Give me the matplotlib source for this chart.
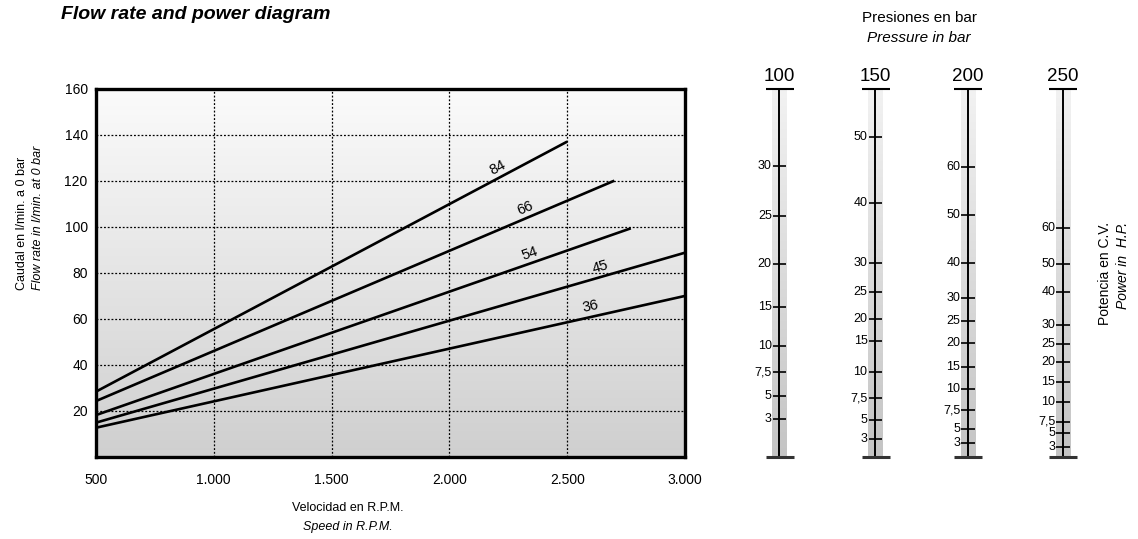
import numpy as np
import matplotlib
matplotlib.use("Agg")
import matplotlib.pyplot as plt
from matplotlib.colors import LinearSegmentedColormap

plt.rcParams['font.family'] = ['Liberation Sans', 'DejaVu Sans']

# ---------------- data ----------------
# Flow lines (label = displacement), flow in l/min vs speed in rpm
line_labels = ["84", "66", "54", "45", "36"]
rpm_start = [500, 500, 500, 500, 500]
rpm_end = [2500, 2700, 2770, 3000, 3000]
flow_start = [28.3, 24.2, 18.1, 14.8, 12.6]
flow_end = [137.0, 120.0, 99.3, 88.7, 69.9]
label_rpm = [2206, 2321, 2342, 2639, 2601]

x_ticks = [500, 1000, 1500, 2000, 2500, 3000]
x_tick_labels = ["500", "1.000", "1.500", "2.000", "2.500", "3.000"]
y_ticks = [20, 40, 60, 80, 100, 120, 140, 160]

# Power nomogram: pressure scales, power ticks (CV) and their flow-equivalent
pressures = ["100", "150", "200", "250"]
power_labels = [
    ["30", "25", "20", "15", "10", "7,5", "5", "3"],
    ["50", "40", "30", "25", "20", "15", "10", "7,5", "5", "3"],
    ["60", "50", "40", "30", "25", "20", "15", "10", "7,5", "5", "3"],
    ["60", "50", "40", "30", "25", "20", "15", "10", "7,5", "5", "3"],
]
power_flow = [
    [126.4, 104.7, 83.8, 65.3, 48.3, 36.8, 26.4, 16.4],
    [139.1, 110.1, 84.0, 71.7, 59.8, 50.3, 36.8, 25.4, 15.9, 7.5],
    [126.1, 105.1, 84.3, 69.1, 59.0, 49.3, 39.1, 29.3, 20.3, 12.0, 6.1],
    [99.6, 83.8, 71.7, 57.3, 48.9, 41.3, 32.6, 23.7, 15.2, 10.2, 4.3],
]

# ---------------- layout ----------------
W, H = 1138, 539
fig = plt.figure(figsize=(W / 100, H / 100), dpi=100)

def fx(px):
    return px / W

def fy(py):
    return 1 - py / H

ax_l, ax_r, ax_t, ax_b = 96, 685, 88.7, 456.7
ax = fig.add_axes([fx(ax_l), fy(ax_b), fx(ax_r - ax_l), (ax_b - ax_t) / H])
ax.set_xlim(500, 3000)
ax.set_ylim(0, 160)

# gradient background (light at top, grey at bottom)
cmap_bg = LinearSegmentedColormap.from_list("bg", ["#fbfbfb", "#cfcfcf"])
grad = np.linspace(0, 1, 256).reshape(-1, 1)
ax.imshow(grad, cmap=cmap_bg, extent=[500, 3000, 0, 160], aspect='auto',
          zorder=0, interpolation='bicubic', origin='upper')
ax.set_xlim(500, 3000)
ax.set_ylim(0, 160)

ax.set_xticks(x_ticks)
ax.set_xticklabels(x_tick_labels)
ax.set_yticks(y_ticks)
ax.tick_params(axis='both', length=0, labelsize=10)
ax.tick_params(axis='x', pad=12)
ax.tick_params(axis='y', pad=6)
ax.grid(True, color='black', linestyle=(0, (1.5, 1.5)), linewidth=0.9, zorder=1)
for s in ax.spines.values():
    s.set_linewidth(2.4)
    s.set_color('black')
    s.set_zorder(5)

for lab, r0, r1, q0, q1, lr in zip(line_labels, rpm_start, rpm_end,
                                     flow_start, flow_end, label_rpm):
    ax.plot([r0, r1], [q0, q1], color='black', lw=1.9, zorder=3,
            solid_capstyle='butt')
    slope = (q1 - q0) / (r1 - r0)
    ly = q0 + slope * (lr - r0) + 4.5
    ang = np.degrees(np.arctan2(q1 - q0, r1 - r0))
    ax.text(lr, ly, lab, fontsize=10.5, ha='center', va='center', rotation=ang,
            rotation_mode='anchor', transform_rotates_text=True, zorder=4)

# axis titles
fig.text(fx(61), fy(19), "Flow rate and power diagram", fontsize=14,
         fontweight='bold', style='italic', va='baseline', ha='left')
fig.text(fx(348), fy(508), "Velocidad en R.P.M.", fontsize=9, ha='center', va='center')
fig.text(fx(348), fy(527), "Speed in R.P.M.", fontsize=9, style='italic',
         ha='center', va='center')
fig.text(fx(21.7), fy(290), "Caudal en l/min. a 0 bar", fontsize=9, rotation=90,
         ha='center', va='bottom')
fig.text(fx(38), fy(290), "Flow rate in l/min. at 0 bar", fontsize=9, rotation=90,
         style='italic', ha='center', va='bottom')

# ---------------- nomogram ----------------
n_l, n_r = 730, 1100
ax2 = fig.add_axes([fx(n_l), fy(ax_b), fx(n_r - n_l), (ax_b - ax_t) / H])
ax2.set_xlim(n_l, n_r)
ax2.set_ylim(0, 160)
ax2.axis('off')

centers = [779.3, 875.0, 967.7, 1062.7]
cmap_bar = LinearSegmentedColormap.from_list("bar", ["#f2f2f2", "#c4c4c4"])
for cx, p, labs, flows in zip(centers, pressures, power_labels, power_flow):
    ax2.imshow(grad, cmap=cmap_bar, extent=[cx - 7, cx + 7.5, 0, 160],
               aspect='auto', zorder=0, origin='upper')
    ax2.plot([cx, cx], [0, 160], color='black', lw=1.4, zorder=2)
    ax2.plot([cx - 13.5, cx + 14.5], [160, 160], color='black', lw=1.5, zorder=2,
             clip_on=False, solid_capstyle='butt')
    ax2.plot([cx - 13.5, cx + 14.5], [0, 0], color='#333333', lw=2.2, zorder=2,
             clip_on=False, solid_capstyle='butt')
    ax2.text(cx, 161.5, p, fontsize=13.5, ha='center', va='bottom')
    for lab, q in zip(labs, flows):
        ax2.plot([cx - 6.5, cx + 7], [q, q], color='black', lw=1.2, zorder=3,
                 solid_capstyle='butt')
        ax2.text(cx - 7.5, q, lab, fontsize=9, ha='right', va='center')
ax2.set_xlim(n_l, n_r)
ax2.set_ylim(0, 160)

fig.text(fx(919), fy(18), "Presiones en bar", fontsize=11, ha='center', va='center')
fig.text(fx(919), fy(38), "Pressure in bar", fontsize=11, style='italic',
         ha='center', va='center')
fig.text(fx(1105), fy(222), "Potencia en C.V.", fontsize=10, rotation=90,
         ha='center', va='top')
fig.text(fx(1123), fy(222), "Power in  H.P.", fontsize=10, rotation=90,
         style='italic', ha='center', va='top')

fig.savefig("out.png", dpi=100)
